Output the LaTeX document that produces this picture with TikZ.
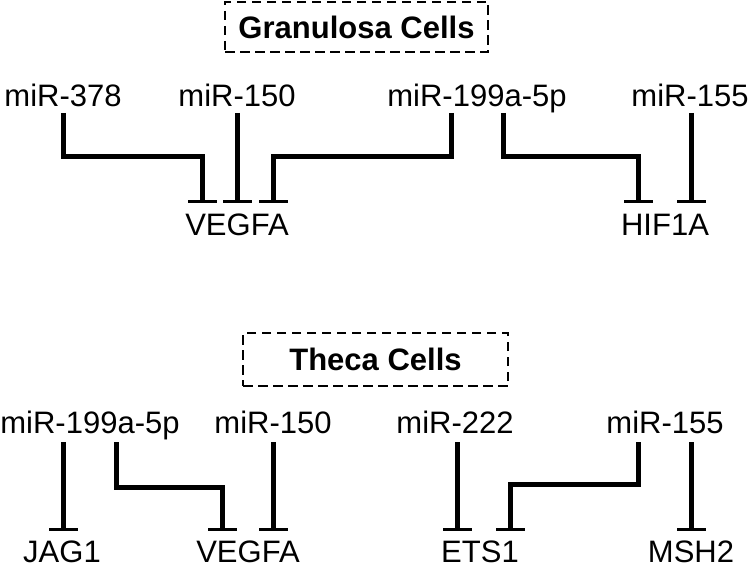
\documentclass[tikz,border=0pt]{standalone}
\usepackage{fontspec}
\setmainfont{Liberation Sans}
\usetikzlibrary{arrows.meta,calc}
\begin{document}
\begin{tikzpicture}[x=1pt,y=-1pt,
  lbl/.style={inner sep=0pt,anchor=base,font=\fontsize{31}{36}\selectfont},
  titlebox/.style={draw,dashed,dash pattern=on 9.5pt off 5.5pt,line width=2.7pt,
    inner sep=0pt,font=\fontsize{31}{36}\selectfont\bfseries,text depth=0pt},
  inh/.style={line width=5pt,-{Bar[width=29pt,line width=3.3pt]}}]
\useasboundingbox (0,0) rectangle (750,564);
% ---- Granulosa ----
\node[titlebox,minimum width=263pt,minimum height=50pt] (gc) at (356.5,27) {Granulosa Cells};
\node[lbl] (g378) at (63,107) {miR-378};
\node[lbl] (g150) at (237,107) {miR-150};
\node[lbl] (g199) at (477,107) {miR-199a-5p};
\node[lbl] (g155) at (690,107) {miR-155};
\node[lbl] (gvegfa) at (237,236) {VEGFA};
\node[lbl] (ghif) at (665,236) {HIF1A};
\draw[inh] ($(g378.base)+(0,6)$) |- ($(gvegfa.base)+(-35,-79)$) -- ($(gvegfa.base)+(-35,-33)$);
\draw[inh] ($(g150.base)+(0,6)$) -- ($(gvegfa.base)+(0,-33)$);
\draw[inh] ($(g199.base)+(-26,6)$) |- ($(gvegfa.base)+(36,-79)$) -- ($(gvegfa.base)+(36,-33)$);
\draw[inh] ($(g199.base)+(26,6)$) |- ($(ghif.base)+(-27,-79)$) -- ($(ghif.base)+(-27,-33)$);
\draw[inh] ($(g155.base)+(1,6)$) -- ($(ghif.base)+(26,-33)$);
% ---- Theca ----
\node[titlebox,minimum width=265pt,minimum height=53pt] (tc) at (375.5,359.5) {Theca Cells};
\node[lbl] (t199) at (90,433) {miR-199a-5p};
\node[lbl] (t150) at (273,433) {miR-150};
\node[lbl] (t222) at (455,433) {miR-222};
\node[lbl] (t155) at (665,433) {miR-155};
\node[lbl] (tjag) at (62,562) {JAG1};
\node[lbl] (tvegfa) at (248,562) {VEGFA};
\node[lbl] (tets) at (480,562) {ETS1};
\node[lbl] (tmsh) at (691,562) {MSH2};
\draw[inh] ($(t199.base)+(-27,9)$) -- ($(tjag.base)+(1,-31)$);
\draw[inh] ($(t199.base)+(26,9)$) |- ($(tvegfa.base)+(-26,-75)$) -- ($(tvegfa.base)+(-26,-31)$);
\draw[inh] ($(t150.base)+(0,9)$) -- ($(tvegfa.base)+(25,-31)$);
\draw[inh] ($(t222.base)+(2,9)$) -- ($(tets.base)+(-23,-31)$);
\draw[inh] ($(t155.base)+(-27,9)$) |- ($(tets.base)+(30,-78)$) -- ($(tets.base)+(30,-31)$);
\draw[inh] ($(t155.base)+(26,9)$) -- ($(tmsh.base)+(0,-31)$);
\end{tikzpicture}
\end{document}
